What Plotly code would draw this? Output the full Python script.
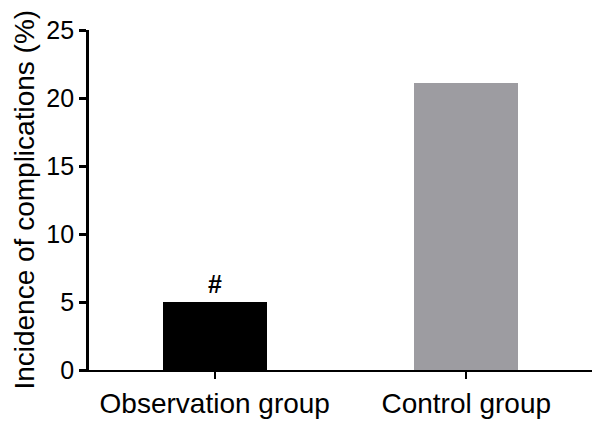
import plotly.graph_objects as go

categories = ["Observation group", "Control group"]
values = [5.02, 21.1]
colors = ["#000000", "#9d9ca1"]
yticks = [0, 5, 10, 15, 20, 25]
y_title = "Incidence of complications (%)"
FONT = "Liberation Sans, Arial, sans-serif"

fig = go.Figure()
fig.add_trace(go.Bar(
    x=categories, y=values, width=0.414,
    marker=dict(color=colors, line=dict(width=0)),
    hoverinfo="skip",
))
fig.add_annotation(x=categories[0], y=values[0], text="<b>#</b>", showarrow=False,
                   yanchor="bottom", yshift=2,
                   font=dict(family=FONT, size=25, color="black"))
fig.add_annotation(xref="paper", yref="paper", x=-0.13, y=0.5, text=y_title,
                   textangle=-90, showarrow=False, xanchor="center", yanchor="middle",
                   font=dict(family=FONT, size=28, color="black"))

fig.update_layout(
    width=600, height=423,
    margin=dict(l=89, r=8, t=30, b=53, autoexpand=False),
    plot_bgcolor="white", paper_bgcolor="white",
    showlegend=False,
    font=dict(family=FONT, size=25, color="black"),
    bargap=0,
)
fig.update_xaxes(
    range=[-0.5, 1.5], showline=True, linecolor="black", linewidth=2,
    ticks="outside", ticklen=7, tickwidth=2, tickcolor="black",
    showgrid=False, tickfont=dict(size=28), automargin=False,
)
fig.update_yaxes(
    range=[0, 25], tickvals=yticks, showline=True, linecolor="black", linewidth=2.7,
    ticks="outside", ticklen=7, tickwidth=2.7, tickcolor="black",
    showgrid=False, zeroline=False, tickfont=dict(size=25), automargin=False,
)
fig.write_html("out.html", config={"displayModeBar": False},
               post_script="document.body.style.margin='0';document.body.style.overflow='hidden';")
